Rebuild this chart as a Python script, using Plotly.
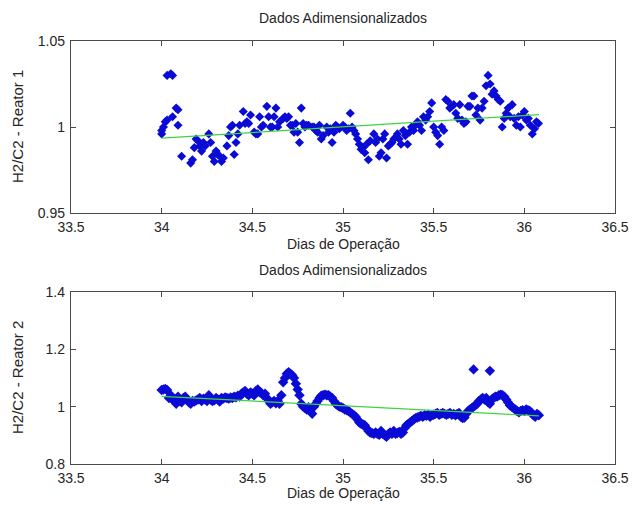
import plotly.graph_objects as go

# Reator 1: dias de operação e razão H2/C2 adimensionalizada
dias_r1 = [
    34.00, 34.00, 34.01, 34.02, 34.03, 34.03, 34.05, 34.06, 34.06, 34.08,
    34.09, 34.09, 34.11, 34.16, 34.17, 34.18, 34.19, 34.20, 34.21, 34.22,
    34.23, 34.24, 34.26, 34.27, 34.28, 34.29, 34.30, 34.31, 34.32, 34.33,
    34.34, 34.36, 34.37, 34.38, 34.39, 34.40, 34.41, 34.42, 34.43, 34.45,
    34.46, 34.47, 34.48, 34.49, 34.51, 34.52, 34.53, 34.54, 34.55, 34.56,
    34.58, 34.59, 34.60, 34.61, 34.62, 34.63, 34.64, 34.65, 34.67, 34.68,
    34.69, 34.70, 34.71, 34.72, 34.73, 34.74, 34.75, 34.76, 34.77, 34.78,
    34.79, 34.80, 34.81, 34.83, 34.84, 34.85, 34.86, 34.87, 34.88, 34.89,
    34.91, 34.92, 34.93, 34.94, 34.95, 34.96, 34.97, 34.98, 35.00, 35.01,
    35.02, 35.03, 35.04, 35.05, 35.06, 35.07, 35.08, 35.09, 35.10, 35.11,
    35.12, 35.13, 35.14, 35.15, 35.17, 35.18, 35.19, 35.20, 35.21, 35.22,
    35.23, 35.24, 35.25, 35.26, 35.27, 35.28, 35.29, 35.30, 35.31, 35.32,
    35.333, 35.344, 35.356, 35.367, 35.378, 35.389, 35.400, 35.411, 35.422,
    35.433, 35.444, 35.456, 35.467, 35.478, 35.489, 35.500, 35.511, 35.522,
    35.533, 35.544, 35.556, 35.567, 35.578, 35.589, 35.600, 35.611, 35.622,
    35.633, 35.644, 35.656, 35.667, 35.678, 35.689, 35.700, 35.711, 35.722,
    35.733, 35.744, 35.756, 35.767, 35.778, 35.789, 35.800, 35.811, 35.822,
    35.833, 35.844, 35.856, 35.867, 35.878, 35.889, 35.900, 35.911, 35.922,
    35.933, 35.944, 35.956, 35.967, 35.978, 35.989, 36.000, 36.011, 36.022,
    36.033, 36.044, 36.056, 36.067, 36.078,
]
h2c2_r1 = [
    0.996, 0.998, 1.000, 1.003, 1.004, 1.030, 1.031, 1.030, 1.006, 1.011,
    1.010, 1.001, 0.983, 0.979, 0.981, 0.988, 0.993, 0.992, 0.989, 0.986,
    0.991, 0.989, 0.996, 0.991, 0.983, 0.980, 0.986, 0.984, 0.983, 0.980,
    0.982, 0.989, 0.995, 1.000, 1.001, 0.984, 0.991, 0.996, 1.001, 1.009,
    1.002, 1.003, 1.002, 1.007, 0.997, 0.996, 0.996, 1.006, 1.000, 1.001,
    1.012, 1.006, 1.000, 1.000, 1.006, 1.011, 1.000, 1.003, 1.005, 1.006,
    1.005, 1.006, 1.001, 1.001, 0.997, 1.002, 0.997, 0.991, 1.011, 1.002,
    1.000, 1.001, 1.001, 1.000, 1.000, 0.998, 0.997, 1.001, 0.993, 0.995,
    1.000, 0.997, 0.999, 0.991, 0.997, 1.001, 1.000, 0.999, 1.001, 1.000,
    0.998, 0.999, 1.008, 1.000, 0.998, 0.996, 0.993, 0.990, 0.987, 0.988,
    0.985, 0.990, 0.981, 0.992, 0.996, 0.991, 0.993, 0.983, 0.985, 0.993,
    0.996, 0.982, 0.989, 0.990, 0.991, 0.993, 0.994, 0.996, 0.993, 0.990,
    0.998, 0.995, 0.990, 0.997, 1.000, 0.998, 1.001, 1.003, 1.001,
    0.998, 1.006, 1.004, 1.006, 1.009, 1.014, 1.000, 0.997, 0.995,
    0.990, 1.000, 0.998, 1.016, 1.015, 1.011, 1.012, 1.013, 1.008,
    1.005, 1.013, 1.004, 1.002, 1.003, 1.012, 1.012, 1.018, 1.018,
    1.007, 1.011, 1.004, 1.011, 1.015, 1.024, 1.030, 1.025, 1.019,
    1.021, 1.018, 1.016, 1.015, 1.000, 1.005, 1.008, 1.011, 1.006,
    1.013, 1.005, 1.001, 1.006, 1.000, 1.007, 1.009, 1.004, 1.005,
    1.001, 0.996, 0.999, 1.003, 1.002,
]

# Reator 2
dias_r2 = [
    34.00, 34.01, 34.02, 34.03, 34.04, 34.05, 34.06, 34.07, 34.08, 34.09,
    34.10, 34.11, 34.12, 34.13, 34.14, 34.15, 34.16, 34.17, 34.18, 34.19,
    34.20, 34.21, 34.22, 34.23, 34.24, 34.25, 34.26, 34.27, 34.28, 34.29,
    34.30, 34.31, 34.32, 34.33, 34.34, 34.35, 34.36, 34.37, 34.38, 34.39,
    34.40, 34.41, 34.42, 34.43, 34.44, 34.45, 34.46, 34.47, 34.48, 34.49,
    34.50, 34.51, 34.52, 34.53, 34.54, 34.55, 34.56, 34.57, 34.58, 34.59,
    34.60, 34.61, 34.62, 34.63, 34.64, 34.65, 34.66, 34.67, 34.68, 34.69,
    34.70, 34.71, 34.72, 34.73, 34.74, 34.75, 34.76, 34.77, 34.78, 34.79,
    34.80, 34.81, 34.82, 34.83, 34.84, 34.85, 34.86, 34.87, 34.88, 34.89,
    34.90, 34.91, 34.92, 34.93, 34.94, 34.95, 34.96, 34.97, 34.98, 34.99,
    35.00, 35.01, 35.02, 35.03, 35.04, 35.05, 35.06, 35.07, 35.08, 35.09,
    35.10, 35.11, 35.12, 35.13, 35.14, 35.15, 35.16, 35.17, 35.18, 35.19,
    35.20, 35.21, 35.22, 35.23, 35.24, 35.25, 35.26, 35.27, 35.28, 35.29,
    35.30, 35.31, 35.32, 35.33, 35.34, 35.35, 35.36, 35.37, 35.38, 35.39,
    35.40, 35.41, 35.42, 35.43, 35.44, 35.45, 35.46, 35.47, 35.48, 35.49,
    35.50, 35.51, 35.52, 35.53, 35.54, 35.55, 35.56, 35.57, 35.58, 35.59,
    35.60, 35.61, 35.62, 35.63, 35.64, 35.65, 35.66, 35.67, 35.68, 35.69,
    35.70, 35.71, 35.72, 35.72, 35.73, 35.74, 35.75, 35.76, 35.77, 35.78,
    35.79, 35.80, 35.81, 35.81, 35.82, 35.83, 35.84, 35.85, 35.86, 35.87,
    35.88, 35.89, 35.90, 35.91, 35.92, 35.93, 35.94, 35.95, 35.96, 35.97,
    35.98, 35.99, 36.00, 36.01, 36.02, 36.03, 36.04, 36.05, 36.06, 36.07,
    36.08,
]
h2c2_r2 = [
    1.058, 1.060, 1.062, 1.058, 1.030, 1.040, 1.025, 1.020, 1.010, 1.035,
    1.020, 1.015, 1.030, 1.035, 1.025, 1.015, 1.010, 1.020, 1.018, 1.022,
    1.025, 1.030, 1.020, 1.028, 1.025, 1.020, 1.040, 1.025, 1.020, 1.022,
    1.030, 1.025, 1.018, 1.030, 1.028, 1.032, 1.030, 1.028, 1.032, 1.030,
    1.035, 1.033, 1.038, 1.035, 1.045, 1.050, 1.055, 1.045, 1.040, 1.050,
    1.045, 1.040, 1.055, 1.060, 1.050, 1.048, 1.040, 1.045, 1.030, 1.020,
    1.010, 1.015, 1.020, 1.012, 1.020, 1.010, 1.040, 1.085, 1.100, 1.115,
    1.120, 1.115, 1.110, 1.100, 1.080, 1.060, 1.040, 1.010, 1.000, 0.995,
    0.990, 0.998, 0.985, 0.975, 1.000, 1.010, 1.020, 1.030, 1.038, 1.040,
    1.042, 1.040, 1.040, 1.035, 1.030, 1.020, 1.010, 1.005, 1.000, 0.998,
    0.995, 0.990, 0.988, 0.985, 0.980, 0.975, 0.970, 0.965, 0.955, 0.945,
    0.940, 0.938, 0.935, 0.925, 0.915, 0.910, 0.908, 0.905, 0.910, 0.905,
    0.902, 0.915, 0.905, 0.900, 0.895, 0.905, 0.910, 0.905, 0.915, 0.905,
    0.908, 0.912, 0.905, 0.910, 0.925, 0.935, 0.940, 0.945, 0.950, 0.955,
    0.960, 0.962, 0.965, 0.968, 0.965, 0.970, 0.968, 0.972, 0.965, 0.970,
    0.972, 0.975, 0.978, 0.972, 0.975, 0.978, 0.975, 0.972, 0.975, 0.978,
    0.972, 0.975, 0.970, 0.975, 0.978, 0.965, 0.960, 0.962, 0.975, 0.985,
    0.990, 0.995, 1.000, 1.130, 1.005, 1.010, 1.020, 1.025, 1.030, 1.025,
    1.030, 1.015, 1.010, 1.125, 1.025, 1.030, 1.035, 1.035, 1.040, 1.042,
    1.040, 1.035, 1.025, 1.015, 1.005, 1.000, 0.995, 0.990, 0.985, 0.980,
    0.985, 0.988, 0.985, 0.990, 0.988, 0.985, 0.978, 0.970, 0.965, 0.975,
    0.970,
]

# Retas de tendência (início e fim do período)
tend_dias = [34.00, 36.08]
tend_r1 = [0.9935, 1.0072]
tend_r2 = [1.036, 0.968]

x_ticks = [33.5, 34, 34.5, 35, 35.5, 36, 36.5]
y_ticks_r1 = [0.95, 1.0, 1.05]
y_ticks_r1_text = ["0.95", "1", "1.05"]
y_ticks_r2 = [0.8, 1.0, 1.2, 1.4]
y_ticks_r2_text = ["0.8", "1", "1.2", "1.4"]

FONT = "Liberation Sans, Arial, sans-serif"
TXT = "#262626"
FRAME = "#4a4a4a"
BLUE = "#0b0bd6"
GREEN = "#3fd43f"

W, H = 633, 509

fig = go.Figure()

fig.add_trace(go.Scatter(
    x=dias_r1, y=h2c2_r1, mode="markers",
    marker=dict(symbol="diamond", size=7, color=BLUE, line=dict(width=0)),
    xaxis="x", yaxis="y", showlegend=False))
fig.add_trace(go.Scatter(
    x=tend_dias, y=tend_r1, mode="lines",
    line=dict(color=GREEN, width=1.2),
    xaxis="x", yaxis="y", showlegend=False))

fig.add_trace(go.Scatter(
    x=dias_r2, y=h2c2_r2, mode="markers",
    marker=dict(symbol="diamond", size=8, color=BLUE, line=dict(width=0)),
    xaxis="x2", yaxis="y2", showlegend=False))
fig.add_trace(go.Scatter(
    x=tend_dias, y=tend_r2, mode="lines",
    line=dict(color=GREEN, width=1.2),
    xaxis="x2", yaxis="y2", showlegend=False))

x_dom = [71 / W, 615 / W]
y1_dom = [(H - 213) / H, (H - 41) / H]
y2_dom = [(H - 464) / H, (H - 292) / H]

axis_common = dict(
    showgrid=False, zeroline=False, showline=True, linecolor=FRAME,
    linewidth=1.3, mirror="allticks", ticks="inside", ticklen=5,
    tickcolor=FRAME, tickwidth=1, automargin=False,
    tickfont=dict(family=FONT, size=14, color=TXT),
)

fig.update_layout(
    width=W, height=H, autosize=False,
    margin=dict(l=0, r=0, t=0, b=0, pad=0),
    paper_bgcolor="white", plot_bgcolor="white",
    xaxis=dict(domain=x_dom, anchor="y", range=[33.5, 36.5],
               tickvals=x_ticks, ticklabelstandoff=1, **axis_common),
    yaxis=dict(domain=y1_dom, anchor="x", range=[0.95, 1.05],
               tickvals=y_ticks_r1, ticktext=y_ticks_r1_text,
               ticklabelstandoff=2, **axis_common),
    xaxis2=dict(domain=x_dom, anchor="y2", range=[33.5, 36.5],
                tickvals=x_ticks, ticklabelstandoff=1, **axis_common),
    yaxis2=dict(domain=y2_dom, anchor="x2", range=[0.8, 1.4],
                tickvals=y_ticks_r2, ticktext=y_ticks_r2_text,
                ticklabelstandoff=2, **axis_common),
)

xc = (71 + 615) / 2 / W


def ann(text, x, y_px, size, angle=0):
    fig.add_annotation(
        text=text, xref="paper", yref="paper", x=x, y=1 - y_px / H,
        xanchor="center", yanchor="middle", showarrow=False,
        textangle=angle, font=dict(family=FONT, size=size, color=TXT))


ann("Dados Adimensionalizados", xc, 18, 14)
ann("Dias de Operação", xc, 244, 14)
ann("Dados Adimensionalizados", xc, 270, 14)
ann("Dias de Operação", xc, 493, 14)
ann("H2/C2 - Reator 1", 17 / W, 127, 15, -90)
ann("H2/C2 - Reator 2", 17 / W, 378, 15, -90)

fig.write_html("out.html")
